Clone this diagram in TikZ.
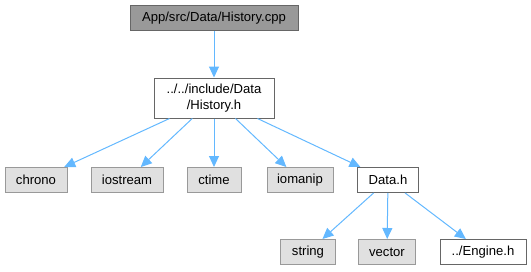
\documentclass[tikz,border=0pt]{standalone}
\usepackage{fontspec}
\setmainfont{Liberation Sans}
\usetikzlibrary{arrows.meta}

\definecolor{edgeblue}{HTML}{63B8FF}
\definecolor{nodegray}{HTML}{999999}
\definecolor{sysgray}{HTML}{E0E0E0}
\definecolor{framegray}{HTML}{666666}

\begin{document}
\begin{tikzpicture}[x=1pt,y=-1pt,font=\fontsize{13.1}{16}\selectfont,
  box/.style={rectangle,draw=framegray,line width=1pt,inner sep=0pt,minimum height=25pt,align=center},
  mainbox/.style={box,fill=nodegray},
  hdr/.style={box,fill=white},
  sys/.style={box,draw=nodegray,fill=sysgray},
  inc/.style={draw=edgeblue,line width=1pt,-{Triangle[length=11pt,width=10pt]}}]
\useasboundingbox (0,0) rectangle (531,271);
\node[mainbox,minimum width=168pt] (cpp) at (214,18) {App/src/Data/History.cpp};
\node[hdr,minimum width=120pt,minimum height=40pt] (hist) at (214,98) {../../include/Data\\/History.h};
% system headers
\foreach \n/\x/\w in %
{chrono/36/62,iostream/127/72,ctime/214/54,iomanip/300/66} {
   \node[sys,minimum width=\w pt] (\n) at (\x,180) {\n};
}
\node[hdr,minimum width=61pt] (data) at (388,180) {Data.h};
\foreach \n/\x/\w in %
{string/308/55,vector/387/57} {
   \node[sys,minimum width=\w pt] (\n) at (\x,252) {\n};
}
\node[hdr,minimum width=86pt] (engine) at (483,252) {../Engine.h};
% include edges
\draw[inc] (cpp) -- (hist);
\foreach \n in {chrono,iostream,ctime,iomanip,data} {
   \draw[inc] (hist) -- (\n);
}
\foreach \n in {string,vector,engine} {
   \draw[inc] (data) -- (\n);
}
\end{tikzpicture}
\end{document}
